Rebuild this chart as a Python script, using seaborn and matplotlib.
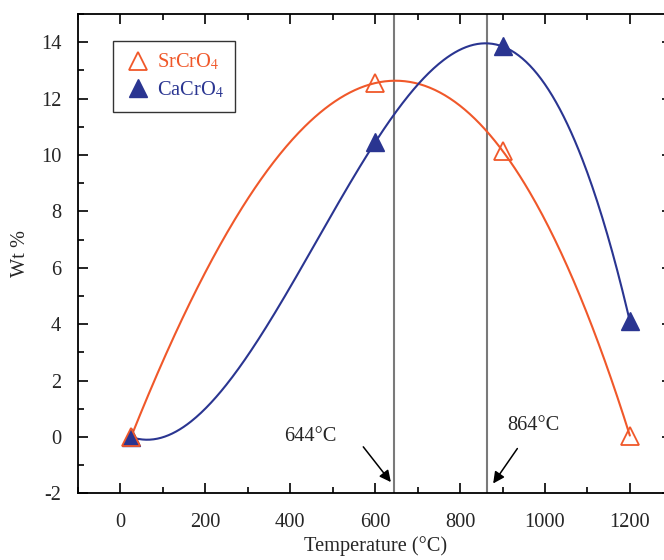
import numpy as np
import pandas as pd
import matplotlib
matplotlib.use("Agg")
import matplotlib.pyplot as plt
import seaborn as sns
from matplotlib.ticker import MultipleLocator
from matplotlib.lines import Line2D

# Measured weight percent of each chromate phase versus temperature
temperature = [25, 600, 900, 1200]
srcro4_wt = [0.0, 12.55, 10.15, 0.05]
cacro4_wt = [0.0, 10.45, 13.85, 4.1]

# Temperatures of the maxima of the fitted curves
peak_temps = [644, 864]
peak_labels = ["644°C", "864°C"]

sr_color = "#f0582a"
ca_color = "#2a3591"
FS = 14.7

sns.set_theme(style="ticks")
plt.rcParams["font.family"] = ["Liberation Serif", "DejaVu Serif"]
plt.rcParams["mathtext.fontset"] = "stix"
plt.rcParams["axes.unicode_minus"] = False

fig = plt.figure(figsize=(6.64, 5.6), dpi=100)
ax = fig.add_axes([0.1175, 0.119, 0.895, 0.856])

df = pd.DataFrame({"T": temperature, "Sr": srcro4_wt, "Ca": cacro4_wt})

# Smooth cubic curve through each series
t_fine = np.linspace(min(temperature), max(temperature), 400)
for col, color in (("Sr", sr_color), ("Ca", ca_color)):
    coef = np.polyfit(df["T"], df[col], 3)
    fit = pd.DataFrame({"T": t_fine, "y": np.polyval(coef, t_fine)})
    sns.lineplot(data=fit, x="T", y="y", ax=ax, color=color, lw=1.5, zorder=3)

ax.plot(df["T"], df["Ca"], ls="none", marker="^", ms=12.5, mfc=ca_color,
        mec=ca_color, zorder=4)
ax.plot(df["T"], df["Sr"], ls="none", marker="^", ms=12.5, mfc="none",
        mec=sr_color, mew=1.3, zorder=5)

for t in peak_temps:
    ax.axvline(t, color="#7a7a7a", lw=1.5, zorder=2)

# Peak temperature labels with arrows pointing at the vertical markers
arrow = dict(arrowstyle="-|>", color="black", lw=1.1,
             mutation_scale=17, shrinkA=0, shrinkB=0)
ax.text(447, 0.0, peak_labels[0], fontsize=FS, ha="center", va="center")
ax.annotate("", xy=(637, -1.6), xytext=(572, -0.35), arrowprops=arrow)
ax.text(972, 0.41, peak_labels[1], fontsize=FS, ha="center", va="center")
ax.annotate("", xy=(878, -1.65), xytext=(935, -0.41), arrowprops=arrow)

ax.set_xlim(-100, 1300)
ax.set_ylim(-2, 15)
ax.xaxis.set_minor_locator(MultipleLocator(100))
ax.yaxis.set_minor_locator(MultipleLocator(1))
ax.set_xticks(range(0, 1201, 200))
ax.set_yticks(range(-2, 15, 2))
ax.tick_params(which="both", direction="in", top=True, right=True,
               labelsize=FS, width=1.2, color="black")
ax.tick_params(which="major", length=7)
ax.tick_params(axis="x", which="major", pad=14)
ax.tick_params(axis="y", which="major", pad=12)
ax.tick_params(which="minor", length=4)
for s in ax.spines.values():
    s.set_linewidth(1.3)
    s.set_color("black")

ax.set_xlabel("Temperature (°C)", fontsize=FS, labelpad=3)
ax.set_ylabel("Wt %", fontsize=FS, labelpad=8)

handles = [
    Line2D([], [], ls="none", marker="^", ms=12.5, mfc="none", mec=sr_color, mew=1.3),
    Line2D([], [], ls="none", marker="^", ms=12.5, mfc=ca_color, mec=ca_color),
]
leg = ax.legend(handles, ["SrCrO$_4$", "CaCrO$_4$"], loc="upper left",
                bbox_to_anchor=(0.059, 0.944), borderaxespad=0, fontsize=FS,
                frameon=True, fancybox=False, edgecolor="black",
                handletextpad=0.3, handlelength=1.3, borderpad=0.55,
                labelspacing=0.35)
leg.get_frame().set_linewidth(1.0)
for txt, c in zip(leg.get_texts(), (sr_color, ca_color)):
    txt.set_color(c)

fig.savefig("out.png", dpi=100)
